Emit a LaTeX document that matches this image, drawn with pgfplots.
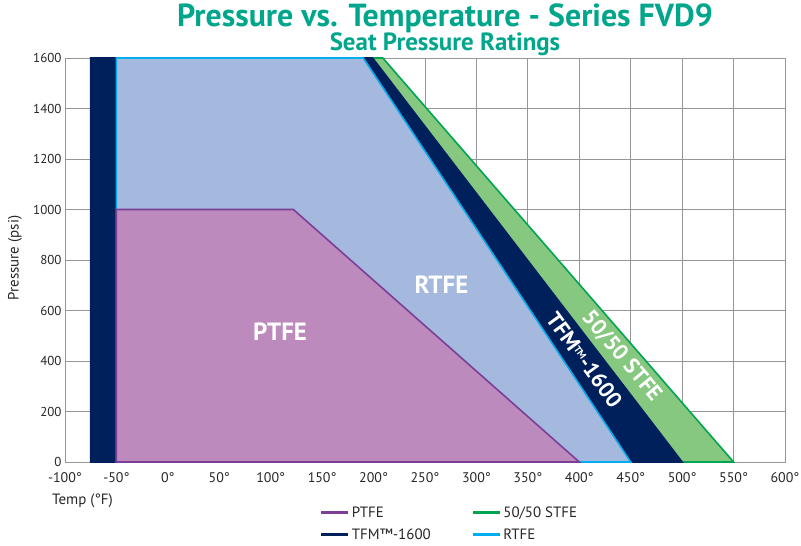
\documentclass[border=0pt]{standalone}
\usepackage{fontspec}
\setmainfont{PT Sans}
\newfontfamily\titlefont{PT Sans}
\usepackage{pgfplots}
\pgfplotsset{compat=1.18}
\definecolor{navy}{RGB}{0,32,91}
\definecolor{rtfefill}{RGB}{165,184,222}
\definecolor{rtfeline}{RGB}{0,174,239}
\definecolor{ptfefill}{RGB}{189,138,189}
\definecolor{ptfeline}{RGB}{123,63,152}
\definecolor{stfefill}{RGB}{134,200,127}
\definecolor{stfeline}{RGB}{0,165,81}
\definecolor{titlecol}{RGB}{0,166,140}
\definecolor{gridgray}{RGB}{150,150,150}
\begin{document}
\begin{tikzpicture}
\path[use as bounding box] (-65bp,-84bp) rectangle (736bp,462bp);
\begin{axis}[
 scale only axis, width=720bp, height=404bp,
 xmin=-100, xmax=600, ymin=0, ymax=1600,
 xtick={-100,-50,...,600}, ytick={0,200,...,1600},
 grid=major, major grid style={gridgray, line width=0.8bp},
 axis line style={gridgray, line width=0.8bp},
 tick style={draw=none},
 /pgf/number format/assume math mode=true,
 /pgf/number format/1000 sep={},
 xticklabel={\pgfmathprintnumber{\tick}°},
 yticklabel style={font=\fontsize{13}{15}\selectfont, text=black!85},
 xticklabel style={font=\fontsize{14}{16}\selectfont, text=black!85, yshift=-7bp},
 legend columns=2,
 legend style={at={(0.35,-0.1)}, anchor=north west, draw=none, fill=none,
   font=\fontsize{15}{17}\selectfont, row sep=6bp, text=black!85},
 legend cell align=left,
 legend image code/.code={\draw[#1, line width=2.6bp] (0bp,0bp) -- (27bp,0bp);},
]
\addplot[forget plot, fill=stfefill, draw=stfeline, line width=1.6bp] coordinates {(-50,0) (-50,1600) (209,1600) (550,0)} -- cycle;
\addplot[forget plot, fill=navy, draw=navy, line width=1.6bp] coordinates {(-75,0) (-75,1600) (199,1600) (500,0)} -- cycle;
\addplot[forget plot, fill=rtfefill, draw=rtfeline, line width=1.6bp] coordinates {(-50,0) (-50,1600) (190,1600) (450,0)} -- cycle;
\addplot[forget plot, fill=ptfefill, draw=ptfeline, line width=1.6bp] coordinates {(-50,0) (-50,1000) (122,1000) (400,0)} -- cycle;
\addlegendimage{ptfeline}
\addlegendentry{\makebox[118bp][l]{PTFE}}
\addlegendimage{stfeline}
\addlegendentry{50/50 STFE}
\addlegendimage{navy}
\addlegendentry{\makebox[118bp][l]{TFM™-1600}}
\addlegendimage{rtfeline}
\addlegendentry{RTFE}
\node[text=white, font=\fontsize{25}{28}\selectfont\bfseries] at (axis cs:109,515) {PTFE};
\node[text=white, font=\fontsize{25}{28}\selectfont\bfseries] at (axis cs:266,701) {RTFE};
\node[text=white, font=\fontsize{22}{24}\selectfont\bfseries, rotate=-54] at (axis cs:405,404) {TFM\raisebox{0.45ex}{\fontsize{10}{11}\selectfont TM}-1600};
\node[text=white, font=\fontsize{22}{24}\selectfont\bfseries, rotate=-50] at (axis cs:441,420) {50/50 STFE};
\end{axis}
\node[text=titlecol, font=\titlefont\fontsize{32}{34}\selectfont\bfseries] at (380bp,444bp) {Pressure vs. Temperature - Series FVD9};
\node[text=titlecol, font=\titlefont\fontsize{25}{27}\selectfont\bfseries] at (380bp,418bp) {Seat Pressure Ratings};
\node[rotate=90, font=\fontsize{15}{17}\selectfont, text=black!85] at (-50bp,204bp) {Pressure (psi)};
\node[anchor=west, font=\fontsize{15}{17}\selectfont, text=black!85, inner sep=0pt] at (-13bp,-39bp) {Temp (°F)};
\end{tikzpicture}
\end{document}
